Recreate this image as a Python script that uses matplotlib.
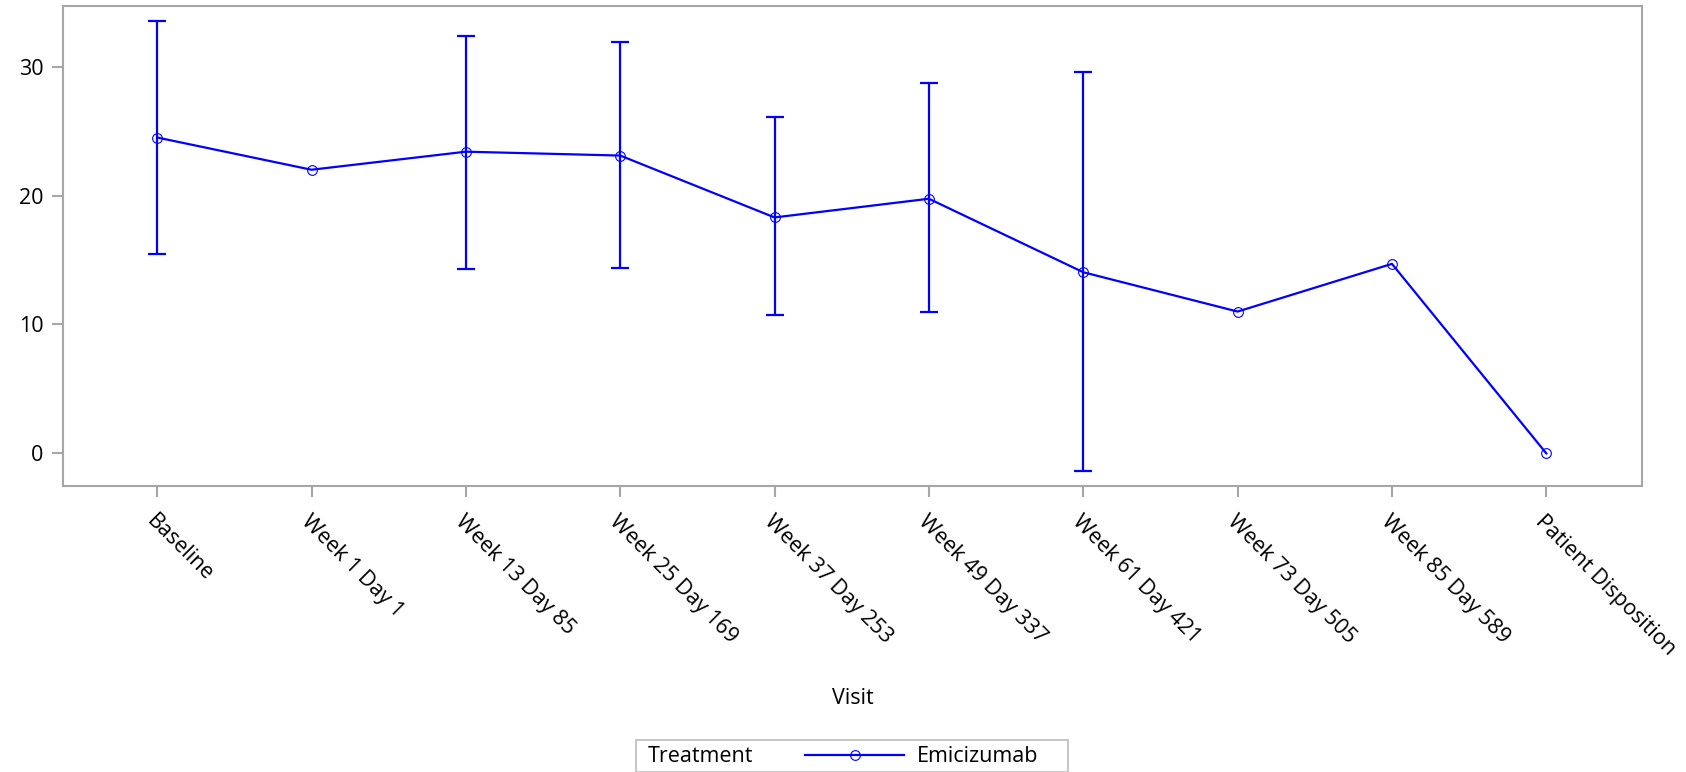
import numpy as np
import matplotlib
matplotlib.use('Agg')
import matplotlib.pyplot as plt
from matplotlib.lines import Line2D
from matplotlib.patches import Rectangle

plt.rcParams['font.family'] = ['Open Sans', 'DejaVu Sans']

visits = ['Baseline', 'Week 1 Day 1', 'Week 13 Day 85', 'Week 25 Day 169',
          'Week 37 Day 253', 'Week 49 Day 337', 'Week 61 Day 421',
          'Week 73 Day 505', 'Week 85 Day 589', 'Patient Disposition']
mean = [24.5, 22.0, 23.4, 23.1, 18.3, 19.75, 14.05, 11.0, 14.7, 0.0]
upper = [33.5, np.nan, 32.4, 31.9, 26.1, 28.7, 29.55, np.nan, np.nan, np.nan]
lower = [15.5, np.nan, 14.3, 14.4, 10.7, 11.0, -1.35, np.nan, np.nan, np.nan]

BLUE = '#0000ff'
GRAY = '#a6a6a6'
FS = 15.5

fig = plt.figure(figsize=(16.86, 7.72), dpi=100)
ax = fig.add_axes([63/1686, 1-486/772, (1642-63)/1686, (486-6)/772])

x = np.arange(len(visits))
m = np.array(mean); up = np.array(upper); lo = np.array(lower)
has = ~np.isnan(up)
ax.errorbar(x[has], m[has], yerr=[m[has]-lo[has], up[has]-m[has]], fmt='none',
            ecolor=BLUE, elinewidth=1.6, capsize=6.5, capthick=1.6, zorder=2)
ax.plot(x, m, color=BLUE, lw=1.6, marker='o', ms=7, mfc='none', mec=BLUE, mew=0.8, zorder=3)

ax.set_xlim(-0.61, 9.62)
ax.set_ylim(-2.53, 34.7)
ax.set_yticks([0, 10, 20, 30])
ax.set_xticks(x)
ax.set_xticklabels(visits, rotation=-45, ha='left', va='top', rotation_mode='anchor')
for s in ax.spines.values():
    s.set_color(GRAY); s.set_linewidth(1.5)
ax.tick_params(axis='both', colors=GRAY, length=8, width=1.5, labelcolor='black', labelsize=FS)
ax.tick_params(axis='x', pad=10)
ax.tick_params(axis='y', pad=6)
ax.set_xlabel('Visit', fontsize=FS)
ax.xaxis.set_label_coords(0.5, -0.42)

# legend box with inline title
fig.patches.append(Rectangle((636/1686, 0), (1068-636)/1686, 32/772, transform=fig.transFigure,
                             fill=False, edgecolor='#c8c8c8', lw=1.5))
fig.text(648/1686, 15/772, 'Treatment', fontsize=FS, va='center', ha='left')
h = Line2D([], [], color=BLUE, lw=1.6, marker='o', ms=7, mfc='none', mec=BLUE, mew=0.8)
fig.legend([h], ['Emicizumab'], loc='center left', bbox_to_anchor=(805/1686, 15/772),
           frameon=False, fontsize=FS, handlelength=4.6, handletextpad=0.6, borderpad=0, borderaxespad=0)

fig.savefig('out.png', dpi=100)
